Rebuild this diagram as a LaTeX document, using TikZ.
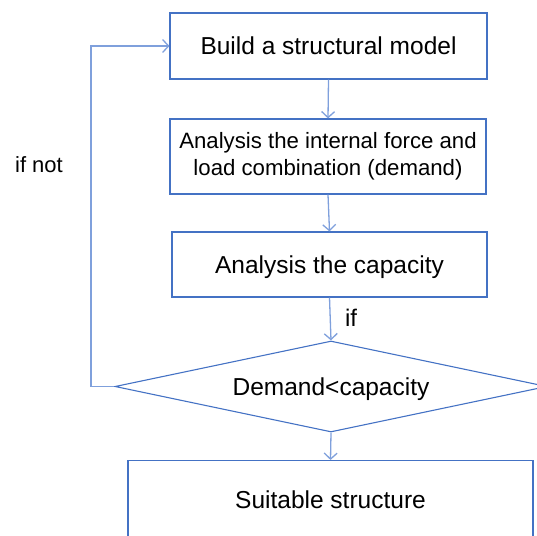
\documentclass[tikz,border=0pt]{standalone}
\usepackage{fontspec}
\setmainfont{Liberation Sans}
\usetikzlibrary{shapes.geometric,arrows.meta}
\definecolor{boxblue}{HTML}{4472C4}
\definecolor{linkblue}{HTML}{7FA0DC}
\begin{document}
\begin{tikzpicture}[x=1pt,y=-1pt,
  stepbox/.style={draw=boxblue,line width=1.1pt,rectangle,inner sep=0pt,align=center,font=\fontsize{24.5}{27}\selectfont},
  oneline/.style={text height=17.6pt,text depth=0pt},
  link/.style={draw=linkblue,line width=1.3pt,-{Straight Barb[length=6pt,width=13pt]}},
  lbl/.style={inner sep=0pt,font=\fontsize{22}{26}\selectfont}]
\useasboundingbox (0,0) rectangle (537,535);
\clip (0,0) rectangle (537,535);
\node[stepbox,oneline,minimum width=317pt,minimum height=66pt] (b1) at (328.5,46) {Build a structural model};
\node[stepbox,minimum width=316pt,minimum height=75pt,font=\fontsize{22.2}{27}\selectfont] (b2) at (328,156.5) {Analysis the internal force and\\load combination (demand)};
\node[stepbox,oneline,minimum width=315pt,minimum height=65pt] (b3) at (329.5,264.5) {Analysis the capacity};
\node[stepbox,oneline,shape=diamond,minimum width=432pt,minimum height=91pt,aspect=4.75] (d) at (331,386.5) {Demand<capacity};
\node[stepbox,oneline,minimum width=405pt,minimum height=79pt] (b4) at (330.5,500) {Suitable structure};
\draw[link] (b1.south) -- (b2.north);
\draw[link] (b2.south) -- (b3.north);
\draw[link] (b3.south) -- (d.north);
\draw[link] (d.south) -- (b4.north);
\coordinate (c1) at (91,386.5);
\draw[link] (d.west) -- (c1) |- (b1.west);
\node[lbl] (ifnot) at (39,165) {if not};
\node[lbl,font=\fontsize{24}{26}\selectfont] (if) at (351,317.5) {if};
\end{tikzpicture}
\end{document}
